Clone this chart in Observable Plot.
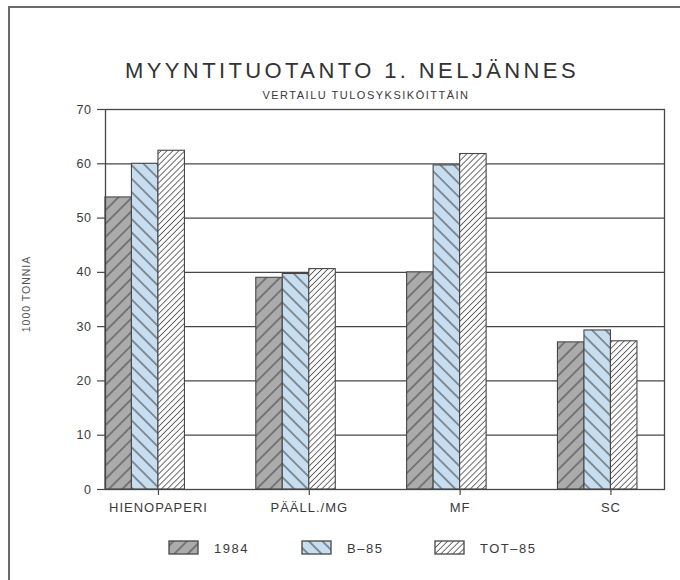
<!DOCTYPE html>
<html><head><meta charset="utf-8">
<script src="https://cdn.jsdelivr.net/npm/d3@7"></script>
<script src="https://cdn.jsdelivr.net/npm/@observablehq/plot@0.6"></script>
<style>
body{margin:0;background:#fff;font-family:"Liberation Sans",Arial,sans-serif;color:#3a3a3a;}
#page{position:relative;width:680px;height:580px;overflow:hidden;background:#fff;}
#border{position:absolute;left:8px;top:6px;width:700px;height:600px;border-left:2px solid #6a6a6a;border-top:2px solid #6a6a6a;}
#title{position:absolute;left:52px;width:600px;top:60px;text-align:center;font-size:22px;line-height:22px;letter-spacing:3.4px;color:#333;white-space:nowrap;}
#subtitle{position:absolute;left:66px;width:600px;top:90px;text-align:center;font-size:11px;line-height:11px;letter-spacing:1.5px;color:#3a3a3a;white-space:nowrap;}
#ylabel{position:absolute;left:-24px;top:287px;width:100px;text-align:center;font-size:10.5px;line-height:14px;letter-spacing:1px;color:#555;transform:rotate(-90deg);white-space:nowrap;}
#chart{position:absolute;left:0;top:0;}
#legend{position:absolute;left:168px;top:540px;height:16px;display:flex;}
.item{display:flex;align-items:center;width:133px;}
.item svg{display:block;}
.item span{margin-left:14px;font-size:13px;letter-spacing:1.5px;color:#3a3a3a;}
#chart g[aria-label="x-axis tick label"] text{letter-spacing:1px;}
#chart g[aria-label="y-axis tick label"] text{letter-spacing:0.5px;}
</style>
</head><body>
<div id="page">
<div id="border"></div>
<div id="chart"></div>
<div id="title">MYYNTITUOTANTO 1. NELJÄNNES</div>
<div id="subtitle">VERTAILU TULOSYKSIKÖITTÄIN</div>
<div id="ylabel">1000 TONNIA</div>
<div id="legend"></div>
</div>
<script>
const categories = ["HIENOPAPERI", "PÄÄLL./MG", "MF", "SC"];
const seriesNames = ["1984", "B–85", "TOT–85"];
const v1984 = [53.8, 39.0, 40.0, 27.1];
const vB85 = [60.0, 39.7, 59.7, 29.3];
const vTOT85 = [62.4, 40.6, 61.8, 27.3];
const yTicks = [0, 10, 20, 30, 40, 50, 60, 70];

const seriesValues = [v1984, vB85, vTOT85];
const patternIds = ["pat1984", "patB85", "patTOT85"];
const barW = 0.1757; // bar width as a fraction of the category step

const ink = "#474747";

const plot = Plot.plot({
  width: 680, height: 530,
  marginTop: 109, marginBottom: 41, marginLeft: 105, marginRight: 16,
  x: {type: "linear", domain: [-0.351, 3.355]},
  y: {domain: [0, 70]},
  style: {fontFamily: "'Liberation Sans', Arial, sans-serif", color: "#3a3a3a", background: "transparent"},
  marks: [
    Plot.ruleY(yTicks.slice(1), {stroke: ink, strokeWidth: 1.2}),
    ...seriesValues.map((vals, j) => Plot.rect(categories.map((c, i) => ({i, v: vals[i]})), {
      x1: d => d.i + (j - 2) * barW,
      x2: d => d.i + (j - 1) * barW,
      y1: d => 0,
      y2: d => d.v,
      fill: `url(#${patternIds[j]})`,
      stroke: ink, strokeWidth: 1.1
    })),
    Plot.frame({stroke: ink, strokeWidth: 1.3}),
    Plot.axisY(yTicks, {tickSize: 8, tickPadding: 6, fontSize: 12.5, label: null, stroke: ink, strokeWidth: 1.2}),
    Plot.axisX(categories.map((c, i) => i), {tickFormat: i => categories[i], tickSize: 6, tickPadding: 7, fontSize: 13, label: null, stroke: ink, strokeWidth: 1.2})
  ]
});
document.getElementById("chart").appendChild(plot);

const svg = d3.select(plot);
const defs = svg.insert("defs", ":first-child");
function hatch(id, base, spacing, angle, sw, col) {
  const p = defs.append("pattern").attr("id", id)
    .attr("patternUnits", "userSpaceOnUse")
    .attr("width", spacing).attr("height", spacing)
    .attr("patternTransform", `rotate(${angle})`);
  p.append("rect").attr("width", spacing).attr("height", spacing).attr("fill", base);
  p.append("line").attr("x1", spacing / 2).attr("y1", 0).attr("x2", spacing / 2).attr("y2", spacing)
    .attr("stroke", col).attr("stroke-width", sw);
}
hatch("pat1984", "#ababab", 9.5, 45, 1.1, "#4a4a4a");
hatch("patB85", "#c6deef", 9.5, -45, 1.1, "#4a4a4a");
hatch("patTOT85", "#ffffff", 4.2, 45, 0.9, "#5a5a5a");

const legend = d3.select("#legend");
seriesNames.forEach((name, j) => {
  const it = legend.append("div").attr("class", "item");
  const s = it.append("svg").attr("width", 32).attr("height", 16);
  s.append("rect").attr("x", 1).attr("y", 1).attr("width", 29).attr("height", 13)
    .attr("fill", `url(#${patternIds[j]})`).attr("stroke", ink).attr("stroke-width", 1.3);
  it.append("span").text(name);
});
</script>
</body></html>
